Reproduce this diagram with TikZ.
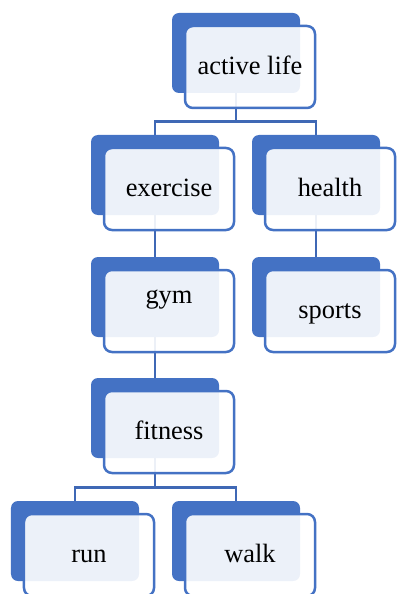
\documentclass[tikz,border=0pt]{standalone}
\usepackage{fontspec}
\setmainfont{Liberation Serif}
\usetikzlibrary{calc}
\pgfdeclarelayer{bg}
\pgfsetlayers{bg,main}
\definecolor{acc}{HTML}{4472C4}
\definecolor{lnk}{HTML}{3F68B5}
% name, left, top, text, text shift
\newcommand\shbox[5]{%
  \node[backbox] (#1b) at (#2+64,#3+40) {};
  \node[frontbox] (#1) at (#2+78,#3+54) {};
  \node[lbl] (#1t) at ([yshift=#5]#1.center) {#4};}
\begin{document}
\begin{tikzpicture}[x=1bp,y=-1bp,
  backbox/.style={rectangle, rounded corners=7bp, fill=acc, minimum width=128bp, minimum height=80bp, inner sep=0pt},
  frontbox/.style={rectangle, rounded corners=8bp, draw=acc, line width=2.5bp, fill=white, fill opacity=0.9, minimum width=130bp, minimum height=82bp, inner sep=0pt},
  lbl/.style={anchor=base, font=\fontsize{26.5}{30}\selectfont, inner sep=0pt, text=black},
  conn/.style={draw=lnk, line width=2.8bp}]
\useasboundingbox (0,0) rectangle (396,594);
\shbox{al}{172}{13}{active life}{-7.5bp}
\shbox{ex}{91}{135}{exercise}{-7.5bp}
\shbox{he}{252}{135}{health}{-7.5bp}
\shbox{gy}{91}{257}{gym}{8bp}
\shbox{sp}{252}{257}{sports}{-7.5bp}
\shbox{fi}{91}{378}{fitness}{-7.5bp}
\shbox{ru}{11}{501}{run}{-7.5bp}
\shbox{wa}{172}{501}{walk}{-7.5bp}
\begin{pgfonlayer}{bg}
\draw[conn] (alb.south) -- ++(0,28.5) -| (exb.north);
\draw[conn] (alb.south) -- ++(0,28.5) -| (heb.north);
\draw[conn] (exb.south) -- (gyb.north);
\draw[conn] (heb.south) -- (spb.north);
\draw[conn] (gyb.south) -- (fib.north);
\draw[conn] (fib.south) -- ++(0,29) -| (rub.north);
\draw[conn] (fib.south) -- ++(0,29) -| (wab.north);
\end{pgfonlayer}
\end{tikzpicture}
\end{document}
